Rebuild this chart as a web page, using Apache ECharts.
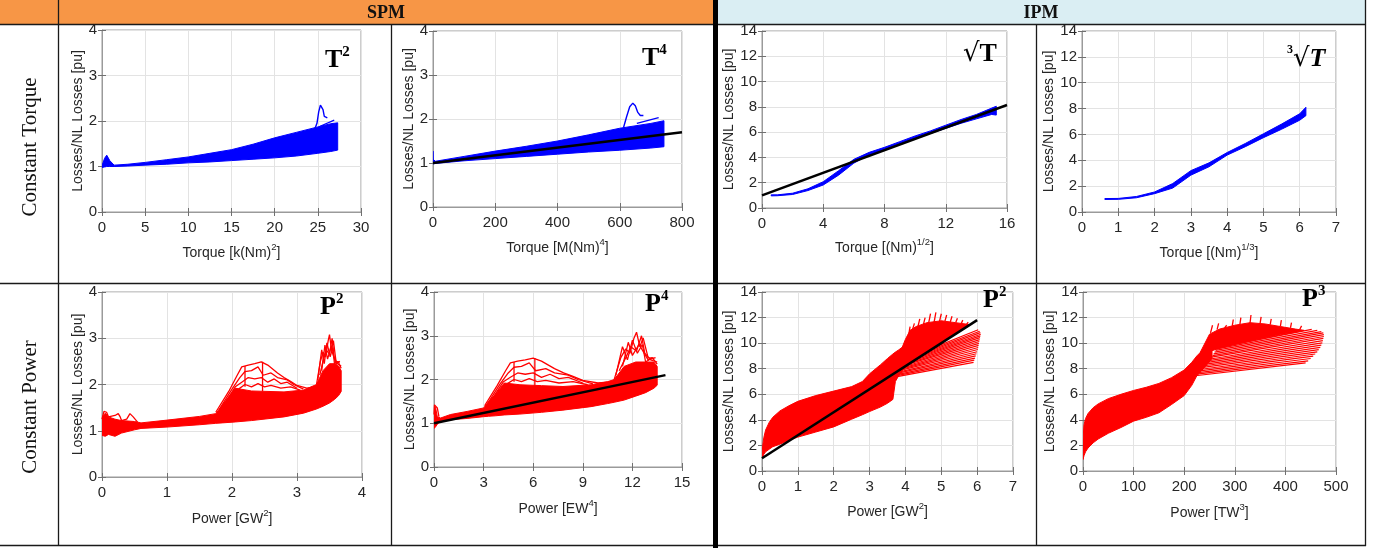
<!DOCTYPE html>
<html><head><meta charset="utf-8">
<script src="https://cdn.jsdelivr.net/npm/echarts@6.0.0/dist/echarts.min.js"></script>
<style>html,body{margin:0;padding:0;background:#fff}#c{width:1377px;height:548px}</style>
</head><body><div id="c"></div>
<script>
// ---------- DATA ----------
// Plot 1: SPM, constant torque, T^2
const p1X  = [0, 0.3, 0.55, 0.9, 1.4, 3, 5, 7.5, 10, 12.5, 15, 17.5, 20, 22.5, 25, 26.5, 27.3];
const p1Up = [1.02, 1.18, 1.25, 1.13, 1.03, 1.05, 1.09, 1.15, 1.21, 1.29, 1.37, 1.49, 1.63, 1.75, 1.87, 1.94, 1.96];
const p1Lo = [0.98, 0.99, 1.0, 1.0, 1.0, 1.01, 1.03, 1.05, 1.08, 1.1, 1.13, 1.16, 1.19, 1.23, 1.29, 1.33, 1.36];
const p1Spike = [[24.6,1.8],[24.9,1.95],[25.1,2.2],[25.3,2.35],[25.45,2.37],[25.6,2.25],[25.75,2.1],[25.9,2.06],[26.1,2.07]];
const p1Tail = [[25.2,1.88],[26.9,2.02]];
// Plot 2: SPM, constant torque, T^4
const p2X  = [0, 0.5, 8, 100, 200, 300, 400, 500, 600, 700, 742];
const p2Up = [1.27, 1.08, 1.04, 1.15, 1.27, 1.38, 1.5, 1.64, 1.79, 1.9, 1.96];
const p2Lo = [0.98, 0.98, 0.99, 1.05, 1.1, 1.15, 1.2, 1.25, 1.29, 1.34, 1.37];
const p2Spike = [[612,1.8],[622,2.05],[632,2.28],[642,2.36],[650,2.3],[658,2.15],[666,2.08],[676,2.08]];
const p2Tail = [[655,1.9],[725,2.03]];
const p2FitX = [0, 800], p2FitY = [1.0, 1.7];
// Plot 3: IPM, constant torque, sqrt(T)
const p3X  = [0.6, 1, 2, 3, 4, 5, 6, 7, 8, 9, 10, 11, 12, 13, 14, 15, 15.3];
const p3Up = [1.04, 1.04, 1.17, 1.52, 2.08, 2.95, 3.85, 4.4, 4.8, 5.25, 5.7, 6.1, 6.55, 7.0, 7.4, 7.9, 8.05];
const p3Lo = [0.96, 0.97, 1.07, 1.38, 1.82, 2.6, 3.55, 4.2, 4.6, 5.05, 5.5, 5.9, 6.3, 6.7, 7.05, 7.4, 7.35];
const p3FitX = [0, 16], p3FitY = [1.0, 8.15];
// Plot 4: IPM, constant torque, cbrt(T)
const p4X  = [0.63, 1, 1.5, 2, 2.5, 3, 3.5, 4, 4.5, 5, 5.5, 6, 6.17];
const p4Up = [1.04, 1.05, 1.2, 1.55, 2.2, 3.2, 3.8, 4.6, 5.3, 6.05, 6.8, 7.6, 8.1];
const p4Lo = [0.97, 0.98, 1.1, 1.42, 1.85, 2.85, 3.5, 4.4, 5.05, 5.75, 6.4, 7.1, 7.45];
// Plot 5: SPM, constant power, P^2
const p5X  = [0, 0.05, 0.1, 0.2, 0.3, 0.5, 0.6, 1.0, 1.5, 1.75, 1.85, 2.05, 2.3, 2.8, 3.1, 3.3, 3.4, 3.5, 3.58, 3.64, 3.68];
const p5Up = [1.3, 1.38, 1.3, 1.25, 1.22, 1.2, 1.17, 1.23, 1.31, 1.37, 1.55, 1.92, 1.86, 1.84, 1.88, 2.0, 2.3, 2.45, 2.45, 2.4, 2.3];
const p5Lo = [0.9, 0.88, 0.92, 0.88, 0.95, 1.02, 1.05, 1.08, 1.13, 1.16, 1.17, 1.19, 1.22, 1.3, 1.38, 1.47, 1.53, 1.6, 1.68, 1.76, 1.85];
const p5H1 = [[1.75,1.4],[1.95,1.85],[2.08,2.2],[2.15,2.38],[2.25,2.42],[2.35,2.45],[2.45,2.49],[2.55,2.42],[2.7,2.25],[2.8,2.15],[2.9,2.07],[3.0,1.98],[3.15,1.92],[3.3,1.95]];
const p5H2 = [[1.8,1.45],[2.0,1.9],[2.12,2.15],[2.2,2.28],[2.3,2.3],[2.4,2.38],[2.48,2.2],[2.6,2.25],[2.7,2.15],[2.85,2.1],[2.95,2.0],[3.1,1.9]];
const p5H3 = [[1.85,1.5],[2.05,1.95],[2.15,2.05],[2.25,2.15],[2.35,2.12],[2.45,2.15],[2.55,2.05],[2.65,2.12],[2.75,2.02],[2.85,2.05],[3.0,1.92]];
const p5H4 = [[2.1,1.9],[2.2,2.0],[2.3,1.95],[2.4,2.02],[2.5,1.95],[2.6,1.98],[2.75,1.92],[2.9,1.95],[3.05,1.88]];
const p5V1 = [[2.47,1.85],[2.47,2.49]];
const p5V2 = [[2.2,1.95],[2.2,2.4]];
const p5S1 = [[3.3,2.0],[3.36,2.5],[3.4,2.7],[3.44,2.6],[3.48,2.95],[3.5,3.08],[3.53,2.75],[3.56,2.95],[3.6,2.5],[3.65,2.48]];
const p5S2 = [[3.32,2.1],[3.38,2.75],[3.42,2.45],[3.46,2.9],[3.51,2.6],[3.55,2.8],[3.58,2.4],[3.63,2.5],[3.68,2.35]];
const p5S3 = [[3.35,2.2],[3.4,2.5],[3.45,2.75],[3.5,2.65],[3.54,3.0],[3.57,2.6],[3.62,2.45],[3.68,2.4]];
const p5S4 = [[3.38,2.3],[3.43,2.85],[3.47,2.55],[3.52,2.8],[3.6,2.45],[3.66,2.5]];
const p5L  = [[0,1.25],[0.03,1.42],[0.07,1.4],[0.1,1.3],[0.2,1.33],[0.25,1.37],[0.28,1.3],[0.3,1.22],[0.38,1.25],[0.43,1.37],[0.48,1.3],[0.55,1.18]];
// Plot 6: SPM, constant power, P^4
const p6X  = [0, 0.1, 0.2, 0.4, 1, 2, 3, 3.3, 3.7, 4.25, 5.2, 6.5, 7.8, 9.5, 10.5, 10.9, 11.5, 12.2, 12.8, 13.3, 13.5];
const p6Up = [1.42, 1.35, 1.15, 1.12, 1.2, 1.27, 1.35, 1.49, 1.65, 1.92, 1.88, 1.86, 1.84, 1.88, 1.95, 2.0, 2.3, 2.4, 2.4, 2.4, 2.3];
const p6Lo = [0.88, 0.92, 0.98, 1.05, 1.08, 1.11, 1.15, 1.16, 1.17, 1.19, 1.21, 1.25, 1.3, 1.38, 1.45, 1.48, 1.53, 1.62, 1.7, 1.8, 1.87];
const p6H1 = [[3.06,1.4],[3.8,1.85],[4.33,2.2],[4.62,2.38],[5.06,2.42],[5.52,2.45],[6.0,2.49],[6.5,2.42],[7.29,2.25],[7.84,2.15],[8.41,2.07],[9.0,1.98],[9.92,1.92],[10.89,1.95]];
const p6H2 = [[3.24,1.45],[4.0,1.9],[4.49,2.15],[4.84,2.28],[5.29,2.3],[5.76,2.38],[6.15,2.2],[6.76,2.25],[7.29,2.15],[8.12,2.1],[8.7,2.0],[9.61,1.9]];
const p6H3 = [[3.42,1.5],[4.2,1.95],[4.62,2.05],[5.06,2.15],[5.52,2.12],[6.0,2.15],[6.5,2.05],[7.02,2.12],[7.56,2.02],[8.12,2.05],[9.0,1.92]];
const p6H4 = [[4.41,1.9],[4.84,2.0],[5.29,1.95],[5.76,2.02],[6.25,1.95],[6.76,1.98],[7.56,1.92],[8.41,1.95],[9.3,1.88]];
const p6V1 = [[6.1,1.85],[6.1,2.49]];
const p6V2 = [[4.84,1.95],[4.84,2.4]];
const p6S1 = [[10.9,2.0],[11.3,2.5],[11.6,2.7],[11.85,2.6],[12.1,2.95],[12.25,3.08],[12.45,2.75],[12.65,2.95],[12.95,2.5],[13.3,2.48]];
const p6S2 = [[11.0,2.1],[11.4,2.75],[11.7,2.45],[12.0,2.9],[12.3,2.6],[12.6,2.8],[12.8,2.4],[13.2,2.5],[13.5,2.35]];
const p6S3 = [[11.2,2.2],[11.6,2.5],[11.9,2.75],[12.25,2.65],[12.55,3.0],[12.75,2.6],[13.1,2.45],[13.5,2.4]];
const p6S4 = [[11.4,2.3],[11.75,2.85],[12.0,2.55],[12.4,2.8],[12.95,2.45],[13.4,2.5]];
const p6L  = [[0,1.2],[0.03,1.42],[0.1,1.38],[0.2,1.35],[0.3,1.15]];
const p6FitX = [0, 14], p6FitY = [1.0, 2.1];
// Plot 7: IPM, constant power, P^2
const p7X  = [0, 0.02, 0.05, 0.1, 0.2, 0.3, 0.5, 0.75, 1.0, 1.5, 2.0, 2.5, 2.8, 3.0, 3.3, 3.5, 3.65, 3.72, 3.8, 3.95, 4.2];
const p7Up = [1.2, 2.0, 2.6, 3.2, 3.8, 4.2, 4.7, 5.1, 5.45, 5.9, 6.25, 6.6, 7.0, 7.6, 8.3, 8.8, 9.15, 9.3, 9.45, 9.75, 9.9];
const p7Lo = [1.0, 1.1, 1.3, 1.5, 1.7, 1.9, 2.1, 2.4, 2.65, 3.05, 3.45, 4.05, 4.4, 4.65, 5.0, 5.3, 5.6, 7.0, 7.4, 8.0, 8.6];
const p7UfX  = [3.9, 4.0, 4.13, 4.3, 4.6, 5.0, 5.4, 5.8];
const p7UfUp = [9.6, 10.3, 11.0, 11.3, 11.6, 11.75, 11.6, 11.45];
const p7UfLo = [8.2, 8.3, 8.45, 8.75, 9.3, 10.0, 10.7, 11.4];
const p7CombStart = [[4.1,10.8],[4.2,11.1],[4.35,11.3],[4.5,11.45],[4.65,11.6],[4.8,11.65],[4.95,11.7],[5.1,11.7],[5.25,11.65],[5.4,11.6],[5.55,11.5],[5.7,11.45]];
const p7CombEnd   = [[4.13,11.3],[4.25,11.55],[4.4,11.9],[4.55,12.0],[4.7,12.3],[4.85,12.4],[5.0,12.3],[5.15,12.2],[5.3,12.1],[5.45,11.95],[5.6,11.8],[5.75,11.65]];
const p7FanStart = [[3.62,7.3],[3.66,7.4],[3.7,7.5],[3.74,7.62],[3.78,7.72],[3.82,7.85],[3.86,7.95],[3.9,8.05],[3.94,8.15],[3.98,8.28],[4.02,8.38],[4.06,8.5],[4.1,8.6],[4.14,8.7],[4.18,8.8],[4.22,8.9],[4.26,9.0],[4.3,9.1]];
const p7FanEnd   = [[5.9,8.5],[5.92,8.67],[5.94,8.83],[5.96,9.0],[5.98,9.17],[6.0,9.33],[6.02,9.5],[6.03,9.66],[6.04,9.82],[6.05,9.98],[6.06,10.13],[6.07,10.28],[6.08,10.43],[6.09,10.57],[6.1,10.7],[6.09,10.82],[6.07,10.93],[6.03,11.05]];
const p7FitX = [0, 6], p7FitY = [1.0, 11.8];
// Plot 8: IPM, constant power, P^3
const p8X  = [0, 2, 5, 10, 20, 30, 50, 75, 100, 125, 150, 175, 200, 215, 225, 240, 255];
const p8Up = [2.5, 3.6, 4.1, 4.5, 4.95, 5.25, 5.66, 6.0, 6.3, 6.55, 6.85, 7.3, 7.9, 8.5, 9.0, 9.6, 10.2];
const p8Lo = [0.9, 1.2, 1.5, 1.8, 2.2, 2.5, 2.95, 3.4, 3.9, 4.2, 4.55, 5.2, 5.9, 6.7, 7.45, 8.1, 8.8];
const p8UfX  = [232, 250, 270, 300, 330, 360, 390, 420, 437];
const p8UfUp = [9.3, 10.7, 11.1, 11.4, 11.6, 11.5, 11.3, 11.1, 11.0];
const p8UfLo = [9.1, 9.35, 9.6, 9.9, 10.15, 10.4, 10.65, 10.85, 11.0];
const p8CombStart = [[252,10.8],[265,11.05],[280,11.2],[295,11.35],[310,11.45],[330,11.55],[350,11.55],[370,11.45],[390,11.3],[410,11.2],[428,11.05]];
const p8CombEnd   = [[256,11.4],[268,11.55],[284,11.4],[297,11.85],[312,12.0],[332,12.2],[352,12.05],[372,11.9],[392,11.8],[412,11.6],[432,11.35]];
const p8FanStart = [[222,7.45],[225,7.58],[228,7.7],[231,7.83],[234,7.96],[237,8.1],[240,8.23],[243,8.36],[246,8.5],[249,8.63],[252,8.76],[254,8.9],[256,9.03],[258,9.16],[260,9.3],[262,9.43],[264,9.55],[266,9.65]];
const p8FanEnd   = [[440,8.45],[445,8.62],[450,8.8],[455,8.98],[459,9.15],[463,9.32],[466,9.5],[469,9.67],[471,9.85],[473,10.02],[474,10.2],[475,10.37],[476,10.52],[476,10.66],[475,10.8],[471,10.9],[463,11.0],[452,11.08]];

// Axis ranges / ticks
const xMax = [30,800,16,7,4,15,7,500];
const xInt = [5,200,4,1,1,3,1,100];
const yMax = [4,4,14,14,4,4,14,14];
const yInt = [1,1,2,2,1,1,2,2];
const xNames = [
  ['Torque [k(Nm)','2',']'], ['Torque [M(Nm)','4',']'], ['Torque [(Nm)','1/2',']'], ['Torque [(Nm)','1/3',']'],
  ['Power [GW','2',']'], ['Power [EW','4',']'], ['Power [GW','2',']'], ['Power [TW','3',']']
];
const yName = 'Losses/NL Losses [pu]';
const tags = [['T','2'],['T','4'],['√T',''],['∛T',''],['P','2'],['P','4'],['P','2'],['P','3']];
const headers = ['SPM','IPM'];
const rowLabels = ['Constant Torque','Constant Power'];

// ---------- LAYOUT ----------
const gridsPx = [
  [102,30,259,182],[433,31,249,176],[762,31,245,177],[1082,31,254,181],
  [102,292,260,185],[434,292,248,175],[762,292,251,179],[1083,292,253,179]
];
const yGap = [16,14,21,24,16,17,23,22];
const xGap = [30,30,29,30,31,31,30,31];
const SANS = "'Liberation Sans', Arial, Helvetica, sans-serif";
const SERIF = "'Liberation Serif', 'Times New Roman', serif";
const BOX = '#9a9a9a', GRIDC = '#e3e3e3', TXT = '#262626', TICKC = '#707070';
const BLUE = '#0000ff', RED = '#ff0000';

const nameRich = {
  a:{fontFamily:SANS,fontSize:14,color:TXT,lineHeight:18,verticalAlign:'bottom'},
  s:{fontFamily:SANS,fontSize:9.5,color:TXT,lineHeight:10,verticalAlign:'top'}
};

const grids = gridsPx.map(g => ({left:g[0],top:g[1],width:g[2],height:g[3],show:true,borderColor:BOX,borderWidth:1,backgroundColor:'#fff',containLabel:false}));
const xAxes = gridsPx.map((g,i)=>({
  gridIndex:i,type:'value',min:0,max:xMax[i],interval:xInt[i],
  axisLine:{show:true,onZero:false,lineStyle:{color:BOX}},
  axisTick:{show:true,inside:true,length:4,lineStyle:{color:TICKC}},
  axisLabel:{fontFamily:SANS,fontSize:15,color:TXT,margin:8,showMaxLabel:true,showMinLabel:true},
  splitLine:{show:true,lineStyle:{color:GRIDC}},
  name:'{a|'+xNames[i][0]+'}{s|'+xNames[i][1]+'}{a|'+xNames[i][2]+'}',
  nameLocation:'middle',nameGap:xGap[i],nameTextStyle:{rich:nameRich}
}));
const yAxes = gridsPx.map((g,i)=>({
  gridIndex:i,type:'value',min:0,max:yMax[i],interval:yInt[i],
  axisLine:{show:true,onZero:false,lineStyle:{color:BOX}},
  axisTick:{show:true,inside:true,length:4,lineStyle:{color:TICKC}},
  axisLabel:{fontFamily:SANS,fontSize:15,color:TXT,margin:5,showMaxLabel:true},
  splitLine:{show:true,lineStyle:{color:GRIDC}},
  name:yName,nameLocation:'middle',nameGap:yGap[i],
  nameTextStyle:{fontFamily:SANS,fontSize:14,color:TXT}
}));
// mirrored tick marks on top / right edges (box style)
gridsPx.forEach((g,i)=>{
  xAxes.push({gridIndex:i,type:'value',position:'top',min:0,max:xMax[i],interval:xInt[i],
    axisLine:{show:false},axisTick:{show:true,inside:true,length:4,lineStyle:{color:TICKC}},
    axisLabel:{show:false},splitLine:{show:false}});
  yAxes.push({gridIndex:i,type:'value',position:'right',min:0,max:yMax[i],interval:yInt[i],
    axisLine:{show:false},axisTick:{show:true,inside:true,length:4,lineStyle:{color:TICKC}},
    axisLabel:{show:false},splitLine:{show:false}});
});

const series = [];
function band(g, xs, up, lo, color){
  series.push({type:'custom',xAxisIndex:g,yAxisIndex:g,clip:true,silent:true,z:2,
    data:[[xs[0],up[0]]],
    renderItem:(p,api)=>{
      const pts = xs.map((x,k)=>api.coord([x,up[k]])).concat(xs.map((x,k)=>api.coord([x,lo[k]])).reverse());
      return {type:'polygon',shape:{points:pts},style:{fill:color,stroke:color,lineWidth:1}};
    }});
}
function poly(g, pts, color, w){
  series.push({type:'line',xAxisIndex:g,yAxisIndex:g,data:pts,showSymbol:false,symbol:'none',silent:true,clip:true,z:3,
    lineStyle:{color:color,width:w},animation:false});
}
function fan(g, st, en, color, w){
  series.push({type:'custom',xAxisIndex:g,yAxisIndex:g,clip:true,silent:true,z:3,
    data:st.map((s,k)=>[s[0],s[1],en[k][0],en[k][1]]),
    encode:{x:[0,2],y:[1,3]},
    renderItem:(p,api)=>{
      const a = api.coord([api.value(0),api.value(1)]), b = api.coord([api.value(2),api.value(3)]);
      return {type:'line',shape:{x1:a[0],y1:a[1],x2:b[0],y2:b[1]},style:{stroke:color,lineWidth:w}};
    }});
}
function fit(g, xs, ys){
  series.push({type:'line',xAxisIndex:g,yAxisIndex:g,data:xs.map((x,k)=>[x,ys[k]]),showSymbol:false,symbol:'none',silent:true,clip:true,z:5,
    lineStyle:{color:'#000',width:2.5},animation:false});
}

band(0,p1X,p1Up,p1Lo,BLUE); poly(0,p1Spike,BLUE,1.4); poly(0,p1Tail,BLUE,1.2);
band(1,p2X,p2Up,p2Lo,BLUE); poly(1,p2Spike,BLUE,1.4); poly(1,p2Tail,BLUE,1.2); fit(1,p2FitX,p2FitY);
band(2,p3X,p3Up,p3Lo,BLUE); fit(2,p3FitX,p3FitY);
band(3,p4X,p4Up,p4Lo,BLUE);
band(4,p5X,p5Up,p5Lo,RED); [p5H1,p5H2,p5H3,p5H4,p5V1,p5V2,p5S1,p5S2,p5S3,p5S4,p5L].forEach(l=>poly(4,l,RED,1.3));
band(5,p6X,p6Up,p6Lo,RED); [p6H1,p6H2,p6H3,p6H4,p6V1,p6V2,p6S1,p6S2,p6S3,p6S4,p6L].forEach(l=>poly(5,l,RED,1.3)); fit(5,p6FitX,p6FitY);
band(6,p7X,p7Up,p7Lo,RED); band(6,p7UfX,p7UfUp,p7UfLo,RED); fan(6,p7CombStart,p7CombEnd,RED,1.3); fan(6,p7FanStart,p7FanEnd,RED,1.2); fit(6,p7FitX,p7FitY);
band(7,p8X,p8Up,p8Lo,RED); band(7,p8UfX,p8UfUp,p8UfLo,RED); fan(7,p8CombStart,p8CombEnd,RED,1.3); fan(7,p8FanStart,p8FanEnd,RED,1.2);

// ---------- TABLE GRAPHICS ----------
const LC = '#1a1a1a';
const graphic = [
  {type:'rect',shape:{x:0,y:0,width:713,height:24},style:{fill:'#f79646'},z:0},
  {type:'rect',shape:{x:718,y:0,width:647,height:24},style:{fill:'#daeef3'},z:0},
];
[[0,24.5,1366,24.5],[0,283.5,1366,283.5],[0,545.5,1366,545.5],[58.5,0,58.5,546],[391.5,24,391.5,546],[1036.5,24,1036.5,546],[1365.5,0,1365.5,546]]
  .forEach(l=>graphic.push({type:'line',shape:{x1:l[0],y1:l[1],x2:l[2],y2:l[3]},style:{stroke:LC,lineWidth:1.3},z:10}));
graphic.push({type:'rect',shape:{x:713,y:0,width:5,height:548},style:{fill:'#000'},z:11});
graphic.push({type:'text',x:386,y:13,style:{text:headers[0],font:'bold 18px '+SERIF,fill:'#111',align:'center',verticalAlign:'middle'},z:12});
graphic.push({type:'text',x:1041,y:13,style:{text:headers[1],font:'bold 18px '+SERIF,fill:'#111',align:'center',verticalAlign:'middle'},z:12});
graphic.push({type:'text',x:30,y:147,rotation:Math.PI/2,style:{text:rowLabels[0],font:'21px '+SERIF,fill:'#111',align:'center',verticalAlign:'middle'},z:12});
graphic.push({type:'text',x:30,y:407,rotation:Math.PI/2,style:{text:rowLabels[1],font:'21px '+SERIF,fill:'#111',align:'center',verticalAlign:'middle'},z:12});

const tagPos = [[325,59],[642,57],[963,53],[1287,58],[320,306],[645,303],[983,299],[1302,298]];
const tagRich = {
  b:{fontFamily:SERIF,fontWeight:'bold',fontSize:26,color:'#000',lineHeight:28,verticalAlign:'bottom'},
  s:{fontFamily:SERIF,fontWeight:'bold',fontSize:15,color:'#000',lineHeight:15,verticalAlign:'top'},
  c:{fontFamily:SERIF,fontWeight:'bold',fontSize:12,color:'#000',lineHeight:12,verticalAlign:'top'},
  r:{fontFamily:"'DejaVu Serif', serif",fontSize:26,color:'#000',lineHeight:28,verticalAlign:'bottom'},
  i:{fontFamily:SERIF,fontWeight:'bold',fontStyle:'italic',fontSize:26,color:'#000',lineHeight:28,verticalAlign:'bottom'}
};
tags.forEach((t,i)=>{
  let txt;
  if (t[0]==='∛T') txt = '{c|3}{r|√}{i|T}';
  else if (t[0]==='√T') txt = '{r|√}{b|T}';
  else txt = '{b|'+t[0]+'}{s|'+t[1]+'}';
  graphic.push({type:'text',x:tagPos[i][0],y:tagPos[i][1],style:{text:txt,rich:tagRich,align:'left',verticalAlign:'middle'},z:12});
});

const chart = echarts.init(document.getElementById('c'),null,{renderer:'canvas'});
chart.setOption({animation:false,backgroundColor:'#fff',grid:grids,xAxis:xAxes,yAxis:yAxes,series:series,graphic:graphic});
</script></body></html>
